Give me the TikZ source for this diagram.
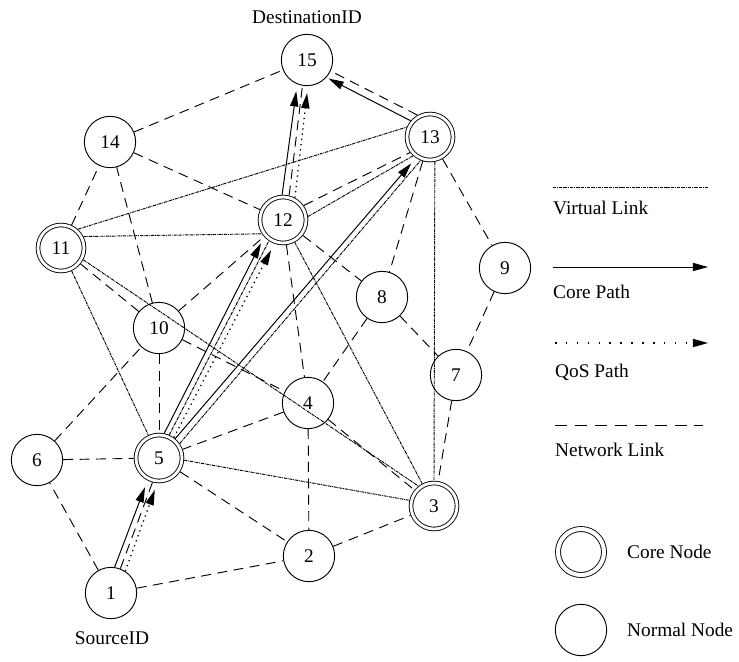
\documentclass[tikz,border=0pt]{standalone}
\usepackage{fontspec}
\setmainfont{Liberation Serif}
\usetikzlibrary{arrows.meta}
\begin{document}
\begin{tikzpicture}[x=0.03cm, y=-0.03cm,
  lbl/.style={font=\fontsize{16.5}{19}\selectfont, inner sep=0pt},
  plainnode/.style={circle, draw, line width=0.8pt, minimum size=1.54cm,
    inner sep=0pt, font=\fontsize{16.5}{19}\selectfont},
  corenode/.style={circle, draw, line width=0.75pt, double, double distance=2.4pt,
    minimum size=1.38cm, inner sep=0pt, outer sep=2pt, font=\fontsize{16.5}{19}\selectfont},
  netlink/.style={line width=0.8pt, dash pattern=on 8.5pt off 5.5pt},
  virtlink/.style={line width=0.8pt, dash pattern=on 2.6pt off 0.7pt on 0.8pt off 0.7pt},
  tip/.style={-{Triangle[length=13pt,width=7pt]}},
  corepath/.style={line width=0.85pt, tip, shorten >=6pt},
  qospath/.style={line width=1.1pt, dash pattern=on 1.1pt off 3.4pt, tip, shorten >=6pt},
]
\useasboundingbox (0,0) rectangle (739,661);

% ---------- nodes ----------
\node[plainnode] (n15) at (307,60)  {15};
\node[plainnode] (n14) at (110,142) {14};
\node[corenode]  (n11) at (61,248)  {11};
\node[corenode]  (n12) at (283,220) {12};
\node[corenode]  (n13) at (430,137) {13};
\node[plainnode] (n10) at (159,328) {10};
\node[plainnode] (n9)  at (505,268) {9};
\node[plainnode] (n8)  at (382,297) {8};
\node[plainnode] (n7)  at (456,375) {7};
\node[plainnode] (n4)  at (308,403) {4};
\node[plainnode] (n6)  at (37,460)  {6};
\node[corenode]  (n5)  at (159,458) {5};
\node[corenode]  (n3)  at (434,506) {3};
\node[plainnode] (n2)  at (309,556) {2};
\node[plainnode] (n1)  at (111,593) {1};

\node[lbl] (dst) at (307,17)  {DestinationID};
\node[lbl] (src) at (112,638) {SourceID};

% ---------- network links ----------
\draw[netlink] (n1) -- (n6);
\draw[netlink] (n1) -- (n2);
\draw[netlink] (n1.69) -- (n5.255);
\draw[netlink] (n6) -- (n5);
\draw[netlink] (n6) -- (n10);
\draw[netlink] (n10) -- (n5);
\draw[netlink] (n10) -- (n11);
\draw[netlink] (n10) -- (n14);
\draw[netlink] (n10) -- (n12);
\draw[netlink] (n10) -- (n4);
\draw[netlink] (n11) -- (n14);
\draw[netlink] (n14) -- (n15);
\draw[netlink] (n14) -- (n12);
\draw[netlink] (n12.76) -- (n15.260);
\draw[netlink] (n12.35) -- (n13.218);
\draw[netlink] (n12) -- (n4);
\draw[netlink] (n12) -- (n8);
\draw[netlink] (n13.120) -- (n15.335);
\draw[netlink] (n13) -- (n8);
\draw[netlink] (n13) -- (n9);
\draw[netlink] (n9) -- (n7);
\draw[netlink] (n8) -- (n7);
\draw[netlink] (n8) -- (n4);
\draw[netlink] (n4) -- (n5);
\draw[netlink] (n4) -- (n2);
\draw[netlink] (n4) -- (n3);
\draw[netlink] (n5) -- (n2);
\draw[netlink] (n2) -- (n3);
\draw[netlink] (n7) -- (n3);

% ---------- virtual links ----------
\draw[virtlink] (n11.48) -- (n13.157);
\draw[virtlink] (n11.27) -- (n12.213);
\draw[virtlink] (n11) -- (n5);
\draw[virtlink] (n11.332) -- (n3.128);
\draw[virtlink] (n12) -- (n3);
\draw[virtlink] (n5.355) -- (n3.167);
\draw[virtlink] (n5.66) -- (n12.236);
\draw[virtlink] (n5.35) -- (n13.248);
\draw[virtlink] (n12.8) -- (n13.228);
\draw[virtlink] (n13.281) -- (n3.90);

% ---------- core path ----------
\draw[corepath] (n1.82) -- (n5.243);
\draw[corepath] (n5.78) -- (n12.222);
\draw[corepath] (n5.50) -- (n13.236);
\draw[corepath] (n12.92) -- (n15.248);
\draw[corepath, shorten >=2pt] (n13.140) -- (n15.318);

% ---------- QoS path ----------
\draw[qospath] (n1.57) -- (n5.266);
\draw[qospath] (n5.54) -- (n12.250);
\draw[qospath] (n12.62) -- (n15.272);

% ---------- legend ----------
\coordinate (lv1) at (553,187); \coordinate (lv2) at (708,187);
\draw[virtlink] (lv1) -- (lv2);
\node[lbl, anchor=west] (lvt) at (553,208) {Virtual Link};

\coordinate (lc1) at (553,267); \coordinate (lc2) at (708,267);
\draw[corepath, shorten >=0pt] (lc1) -- (lc2);
\node[lbl, anchor=west] (lct) at (553,292) {Core Path};

\coordinate (lq1) at (555,343); \coordinate (lq2) at (708,343);
\draw[qospath, shorten >=0pt, dash pattern=on 1.3pt off 8pt] (lq1) -- (lq2);
\node[lbl, anchor=west] (lqt) at (555,372) {QoS Path};

\coordinate (ln1) at (555,425); \coordinate (ln2) at (703,425);
\draw[netlink, dash pattern=on 10.5pt off 6.5pt] (ln1) -- (ln2);
\node[lbl, anchor=west] (lnt) at (555,450) {Network Link};

\node[corenode, double distance=3.5pt] (lgc) at (581,552) {};
\node[lbl, anchor=west] (lgct) at (627,552) {Core Node};
\node[plainnode] (lgn) at (581,630) {};
\node[lbl, anchor=west] (lgnt) at (627,630) {Normal Node};
\end{tikzpicture}
\end{document}
